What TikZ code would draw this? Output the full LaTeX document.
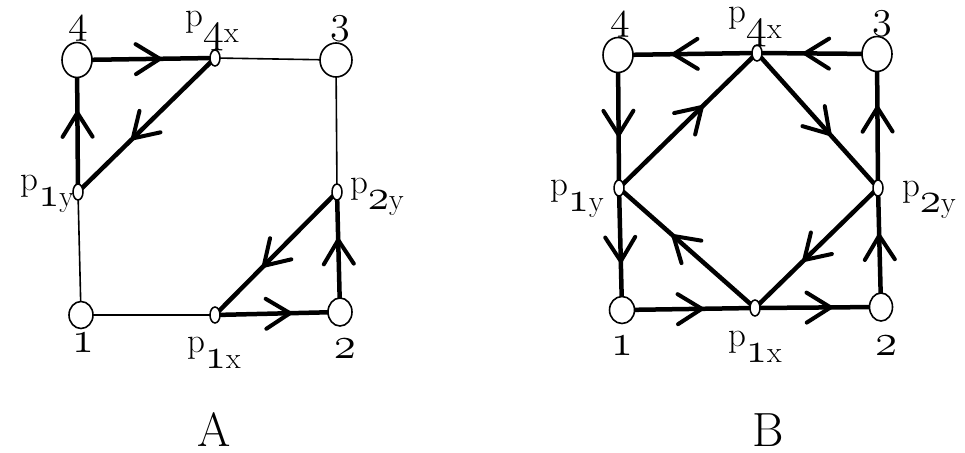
\documentclass[tikz,border=0pt]{standalone}
\usepackage{graphicx}
\usetikzlibrary{shapes.geometric,decorations.markings,backgrounds}

% old-style figures from the 12pt math italic font, enlarged
\newcommand{\osf}[2]{\scalebox{#1}{\fontsize{12}{14}\usefont{OML}{cmm}{m}{it}#2}}
% label "p" with a lowered index, e.g. \plbl{4}{x}
\newcommand{\plbl}[2]{{\fontsize{35}{35}\selectfont p\raisebox{-16pt}{\fontsize{30}{30}\selectfont\osf{3.6}{#1}#2}}}
\newcommand{\numlbl}[1]{\osf{3.75}{#1}}
\newcommand{\toplbl}[1]{\osf{3.35}{#1}}

\tikzset{
  bignode/.style={ellipse, draw, line width=1.6pt, fill=white, inner sep=0pt,
                  minimum width=30pt, minimum height=35pt},
  lownode/.style={ellipse, draw, line width=1.6pt, fill=white, inner sep=0pt,
                  minimum width=24pt, minimum height=28pt},
  pnode/.style={ellipse, draw, line width=1.5pt, fill=white, inner sep=0pt,
                minimum width=10pt, minimum height=16pt},
  thinedge/.style={line width=1.6pt},
  heavyedge/.style={line width=4.5pt},
  fwd/.style={heavyedge, postaction={decorate},
    decoration={markings, mark=at position 0.6 with
      {\draw[line width=4pt, line cap=round, line join=miter] (-24,15) -- (0,0) -- (-24,-15);}}},
  lbl/.style={inner sep=0pt, outer sep=0pt},
}

\begin{document}
\begin{tikzpicture}[x=1pt, y=-1pt]
\useasboundingbox (0,0) rectangle (965,452);

% ---------------- graph A ----------------
\node[bignode] (a4) at (77,60) {};
\node[bignode, minimum width=32pt, minimum height=34pt] (a3) at (336,60) {};
\node[lownode, minimum height=27pt] (a1) at (81,315) {};
\node[lownode] (a2) at (340,312) {};
\node[pnode] (a4x) at (215,58) {};
\node[pnode] (a1y) at (78,192) {};
\node[pnode] (a2y) at (337,192) {};
\node[pnode] (a1x) at (215,315) {};

\node[lbl, anchor=south] (la4) at (78,41) {\toplbl{4}};
\node[lbl, anchor=south] (la3) at (340,41) {\toplbl{3}};
\node[lbl, anchor=south] (la1) at (83,352) {\numlbl{1}};
\node[lbl, anchor=south] (la2) at (345,358) {\numlbl{2}};
\node[lbl, anchor=base west] (la4x) at (185,27) {\plbl{4}{x}};
\node[lbl, anchor=base east] (la1y) at (74,190) {\plbl{1}{y}};
\node[lbl, anchor=base west] (la2y) at (350,193) {\plbl{2}{y}};
\node[lbl, anchor=base west] (la1x) at (187,352) {\plbl{1}{x}};

\node[lbl, anchor=base] (capA) at (214,446) {\fontsize{48}{48}\selectfont A};

% ---------------- graph B ----------------
\node[bignode] (b4) at (618,55) {};
\node[bignode] (b3) at (877,54) {};
\node[lownode, minimum width=25pt, minimum height=27pt] (b1) at (622,310) {};
\node[lownode, minimum width=23pt] (b2) at (881,307) {};
\node[pnode] (b4x) at (757,53) {};
\node[pnode] (b1y) at (619,188) {};
\node[pnode] (b2y) at (878,188) {};
\node[pnode] (b1x) at (755,308) {};

\node[lbl, anchor=south] (lb4) at (620,37) {\toplbl{4}};
\node[lbl, anchor=south] (lb3) at (882,36) {\toplbl{3}};
\node[lbl, anchor=south] (lb1) at (622,355) {\numlbl{1}};
\node[lbl, anchor=south] (lb2) at (886,355) {\numlbl{2}};
\node[lbl, anchor=base west] (lb4x) at (728,23) {\plbl{4}{x}};
\node[lbl, anchor=base west] (lb1y) at (550,195) {\plbl{1}{y}};
\node[lbl, anchor=base west] (lb2y) at (902,196) {\plbl{2}{y}};
\node[lbl, anchor=base west] (lb1x) at (728,346) {\plbl{1}{x}};

\node[lbl, anchor=base] (capB) at (768,446) {\fontsize{48}{48}\selectfont B};

% ---------------- edges, beneath the vertices ----------------
\begin{scope}[on background layer]
  \fill[white] (0,0) rectangle (965,452);

  % A: plain sides
  \draw[thinedge] (a4x.center) -- (a3.center);
  \draw[thinedge] (a3.center) -- (a2y.center);
  \draw[thinedge] (a1y.center) -- (a1.center);
  \draw[thinedge] (a1.center) -- (a1x.center);
  % A: the two directed triangles
  \draw[fwd] (a4.center) -- (a4x.center);
  \draw[fwd] (a4x.center) -- (a1y.center);
  \draw[fwd] (a1y.center) -- (a4.center);
  \draw[fwd] (a2y.center) -- (a1x.center);
  \draw[fwd] (a1x.center) -- (a2.center);
  \draw[fwd] (a2.center) -- (a2y.center);

  % B: outer square
  \draw[fwd] (b3.center) -- (b4x.center);
  \draw[fwd] (b4x.center) -- (b4.center);
  \draw[fwd] (b4.center) -- (b1y.center);
  \draw[fwd] (b1y.center) -- (b1.center);
  \draw[fwd] (b1.center) -- (b1x.center);
  \draw[fwd] (b1x.center) -- (b2.center);
  \draw[fwd] (b2.center) -- (b2y.center);
  \draw[fwd] (b2y.center) -- (b3.center);
  % B: inner diamond
  \draw[fwd] (b1y.center) -- (b4x.center);
  \draw[fwd] (b4x.center) -- (b2y.center);
  \draw[fwd] (b2y.center) -- (b1x.center);
  \draw[fwd] (b1x.center) -- (b1y.center);
\end{scope}
\end{tikzpicture}
\end{document}
